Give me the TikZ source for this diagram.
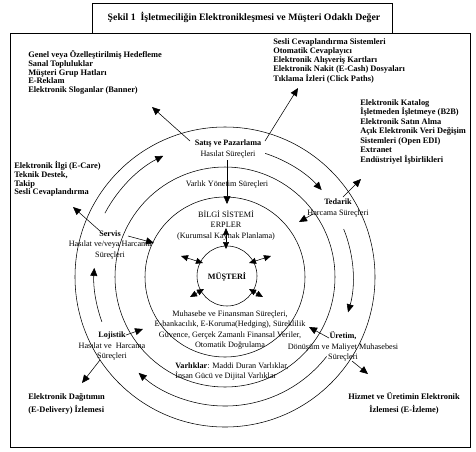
\documentclass[tikz,border=0pt]{standalone}
\usepackage{fontspec}
\setmainfont{Liberation Serif}
\usetikzlibrary{arrows.meta,calc}
\begin{document}
\begin{tikzpicture}[x=1pt,y=-1pt,line width=0.55pt,
  arrl/.style={-{Triangle[length=8pt,width=7pt]}},
  darrl/.style={{Triangle[length=7pt,width=6pt]}-{Triangle[length=7pt,width=6pt]}},
  listtxt/.style={inner sep=0pt,align=left,anchor=west,font=\fontsize{8.4}{8.8}\selectfont\bfseries},
  cyctxt/.style={inner sep=0pt,align=center,font=\fontsize{8.2}{10.5}\selectfont},
  boldtxt/.style={inner sep=0pt,font=\fontsize{8.2}{10}\selectfont\bfseries}]
\useasboundingbox (0,0) rectangle (476,451);
\fill[white] (0,0) rectangle (476,451);
% title and frame
\draw (92,3) rectangle (392,33);
\node[inner sep=0pt,font=\fontsize{9.8}{10}\selectfont\bfseries] (title) at (244,17) {Şekil 1\ \ İşletmeciliğin Elektronikleşmesi ve Müşteri Odaklı Değer};
\draw (10,33) rectangle (470,447);
% circles
\coordinate (C) at (225,277);
\coordinate (M) at (227,276);
\draw (C) circle[radius=150];
\draw (C) circle[radius=110];
\draw (C) circle[radius=80];
\draw (M) circle[radius=30];
% outer lists
\node[listtxt] (tl) at (28,72.5) {Genel veya Özelleştirilmiş Hedefleme\\Sanal Topluluklar\\Müşteri Grup Hatları\\E-Reklam\\Elektronik Sloganlar (Banner)};
\node[listtxt] (tr) at (273,61) {Sesli Cevaplandırma Sistemleri\\Otomatik Cevaplayıcı\\Elektronik Alışveriş Kartları\\Elektronik Nakit (E-Cash) Dosyaları\\Tıklama İzleri (Click Paths)};
\node[listtxt,font=\fontsize{8.4}{9.5}\selectfont\bfseries] (rt) at (360,131.5) {Elektronik Katalog\\İşletmeden İşletmeye (B2B)\\Elektronik Satın Alma\\Açık Elektronik Veri Değişim\\Sistemleri (Open EDI)\\Extranet\\Endüstriyel İşbirlikleri};
\node[listtxt] (ec) at (14,179) {Elektronik İlgi (E-Care)\\Teknik Destek,\\Takip\\Sesli Cevaplandırma};
\node[listtxt,font=\fontsize{8.4}{13}\selectfont\bfseries] (ed) at (28,403.5) {Elektronik Dağıtımın\\(E-Delivery) İzlemesi};
\node[inner sep=0pt,align=center,font=\fontsize{8.4}{13}\selectfont\bfseries] (ei) at (404,403.5) {Hizmet ve Üretimin Elektronik\\İzlemesi (E-İzleme)};
% cycle labels
\node[cyctxt,font=\fontsize{8.2}{11}\selectfont] (sat) at (228,149.5) {\textbf{Satış ve Pazarlama}\\Hasılat Süreçleri};
\node[cyctxt] (vy) at (227,185) {Varlık Yönetim Süreçleri};
\node[cyctxt] (ted) at (338,208) {\textbf{Tedarik}\\Harcama Süreçleri};
\node[cyctxt] (ser) at (110,245) {\textbf{Servis}\\Hasılat ve/veya Harcama\\Süreçleri};
\node[cyctxt] (erp) at (226,225) {BİLGİ SİSTEMİ\\ERPLER\\(Kurumsal Kaynak Planlama)};
\node[boldtxt] (mus) at (227,277) {MÜŞTERİ};
\node[cyctxt] (muh) at (230,330) {Muhasebe ve Finansman Süreçleri,\\E-bankacılık, E-Koruma(Hedging), Süreklilik\\Güvence, Gerçek Zamanlı Finansal Veriler,\\Otomatik Doğrulama};
\node[cyctxt,align=left,anchor=west] (var) at (175,371.5) {\textbf{Varlıklar}: Maddi Duran Varlıklar,\\İnsan Gücü ve Dijital Varlıklar};
\node[cyctxt] (loj) at (112,346.5) {\textbf{Lojistik}\\Hasılat ve\ \ Harcama\\Süreçleri};
\node[cyctxt] (ure) at (343,346.5) {\textbf{Üretim,}\\Dönüşüm ve Maliyet Muhasebesi\\Süreçleri};
% straight connectors
\coordinate (p1s) at (190,141); \coordinate (p1e) at (152,107);
\coordinate (p2s) at (265,141); \coordinate (p2e) at (298,88);
\coordinate (p3s) at (227,160); \coordinate (p3e) at (227,204);
\coordinate (p5s) at (343,197); \coordinate (p5e) at (361,179);
\coordinate (p6s) at (313,214); \coordinate (p6e) at (299,222);
\coordinate (p8s) at (329,338); \coordinate (p8e) at (309,327);
\coordinate (p9s) at (352,361); \coordinate (p9e) at (368,374);
\coordinate (p11s) at (126,335); \coordinate (p11e) at (143,329);
\coordinate (p12s) at (100,360); \coordinate (p12e) at (82,383);
\coordinate (p14s) at (100,231); \coordinate (p14e) at (73,207);
\coordinate (p15s) at (128,236); \coordinate (p15e) at (154,243);
\draw[arrl] (p1s) -- (p1e);
\draw[arrl] (p2s) -- (p2e);
\draw[arrl] (p3s) -- (p3e);
\draw[arrl] (p5s) -- (p5e);
\draw[arrl] (p6s) -- (p6e);
\draw[arrl] (p8s) -- (p8e);
\draw[arrl] (p9s) -- (p9e);
\draw[arrl] (p11s) -- (p11e);
\draw[arrl] (p12s) -- (p12e);
\draw[arrl] (p14s) -- (p14e);
\draw[arrl] (p15s) -- (p15e);
% ERP <-> customer
\coordinate (e1) at (226,228); \coordinate (e2) at (226,249);
\draw[darrl] (e1) -- (e2);
\coordinate (ula) at (203,263); \coordinate (ulb) at (181,256);
\coordinate (ura) at (249,263); \coordinate (urb) at (271,256);
\coordinate (lla) at (204,289); \coordinate (llb) at (190,297);
\coordinate (lra) at (249,289); \coordinate (lrb) at (263,297);
\draw[darrl] (ula) -- (ulb);
\draw[darrl] (ura) -- (urb);
\draw[darrl] (lla) -- (llb);
\draw[darrl] (lra) -- (lrb);
% cycle arcs
\draw[arrl] (C) ++(-72:130) arc[start angle=-72,end angle=-42,radius=130];
\draw[arrl] (C) ++(-22:128) arc[start angle=-22,end angle=16,radius=128];
\draw[arrl] (C) ++(38:129) arc[start angle=38,end angle=132,radius=129];
\draw[arrl] (C) ++(160:131) arc[start angle=160,end angle=184,radius=131];
\draw[arrl] (C) ++(-152:136) arc[start angle=-152,end angle=-117,radius=136];
\end{tikzpicture}
\end{document}
